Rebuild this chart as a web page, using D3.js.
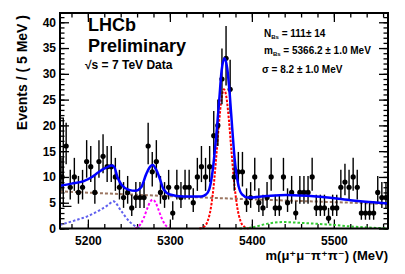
<!DOCTYPE html>
<html>
<head>
<meta charset="utf-8">
<script src="https://cdn.jsdelivr.net/npm/d3@7"></script>
<style>
  body { margin: 0; background: #fff; }
  svg { display: block; font-family: 'Liberation Sans', Arial, 'DejaVu Sans', sans-serif; font-weight: bold; }
</style>
</head>
<body>
<div id="graf"></div>
<script>
// Ajuste de masa B_s -> mu mu pi pi (LHCb preliminar)

// rango en masa y ancho de bin (MeV)
masaMin = 5166
masaMax = 5566
anchoBin = 5

// eventos por bin de 5 MeV
eventos = [10, 16, 8, 10, 7, 8, 13, 12, 7, 13,
           14, 12, 12, 10, 8, 6, 7, 4, 6, 6,
           6, 16, 11, 13, 7, 6, 8, 3, 8, 6,
           8, 8, 5, 10, 12, 10, 12, 18, 20, 29,
           33, 27, 10, 11, 11, 5, 6, 10, 5, 4,
           6, 10, 4, 4, 10, 5, 7, 3, 7, 7,
           7, 10, 4, 4, 4, 2, 4, 4, 8, 9,
           8, 10, 8, 3, 3, 3, 3, 7, 6, 6]

// curvas del ajuste, puntos [masa, eventos]
fondo   = [[5166, 7.2], [5266, 6.5], [5366, 5.85], [5466, 5.3], [5566, 4.75]]
parcial = [[5166, 0.7], [5185, 1.6], [5200, 2.4], [5215, 3.6], [5225, 4.6], [5231, 5.3],
           [5241, 3.3], [5251, 1.3], [5261, 0.2], [5266, 0]]
pico    = [[5258, 0], [5264, 0.8], [5268, 2.0], [5272, 3.7], [5276, 5.2], [5279, 5.6],
           [5282, 5.2], [5286, 3.7], [5290, 2.0], [5294, 0.8], [5300, 0]]
senal   = [[5336, 0], [5341, 0.26], [5346, 1.4], [5350, 4.0], [5354, 9.2], [5357, 14.8],
           [5360, 20.6], [5363, 25.2], [5366, 27], [5369, 25.4], [5372, 21], [5375, 15.2],
           [5378, 9.6], [5382, 4.3], [5386, 1.5], [5391, 0.3], [5396, 0]]
verde   = [[5385, 0], [5400, 0.2], [5418, 0.9], [5438, 1.25], [5458, 1.1], [5480, 0.9],
           [5500, 0.7], [5520, 0.4], [5540, 0.2], [5566, 0.05]]
total   = [[5166, 8.3], [5180, 8.7], [5195, 9.2], [5205, 10.0], [5212, 10.8], [5221, 11.7],
           [5229, 12.2], [5232, 12.0], [5236, 10.0], [5241, 8.5], [5250, 7.5], [5258, 7.3],
           [5265, 8.0], [5271, 10.5], [5276, 12.0], [5279, 12.3], [5283, 11.5], [5287, 10.0],
           [5292, 7.7], [5300, 6.6], [5316, 6.2], [5338, 6.2], [5344, 6.6], [5348, 7.6],
           [5352, 11.0], [5356, 17.0], [5360, 24.5], [5363, 30.5], [5366.5, 33.0], [5370, 31.0],
           [5373, 26.0], [5376, 19.5], [5379, 13.5], [5383, 8.8], [5388, 6.6], [5395, 6.0],
           [5418, 6.3], [5442, 6.5], [5479, 6.2], [5520, 5.5], [5566, 4.85]]

// trazo en escalon del borde izquierdo
paso = [[5166, 21.4], [5170, 21.4], [5170, 4.3], [5180, 4.3]]

// ticks de los ejes
yTicks = [0, 5, 10, 15, 20, 25, 30, 35, 40]
xTicks = [5200, 5300, 5400, 5500]

ancho_total = 405
alto_total = 274
margins = { top: 13, left: 60, right: 17, bottom: 45.5 }
ancho = ancho_total - margins.left - margins.right
alto = alto_total - margins.top - margins.bottom

svg = d3.select('#graf').append('svg')
  .attr('width', ancho_total)
  .attr('height', alto_total)

g = svg.append('g')
  .attr('transform', `translate(${margins.left}, ${margins.top})`)

// escaladores
x = d3.scaleLinear().domain([masaMin, masaMax]).range([0, ancho])
y = d3.scaleLinear().domain([0, 41.8]).range([alto, 0])

// ejes: ticks hacia adentro
yMinor = d3.range(0, 42, 1)
xMinor = d3.range(5180, 5566, 20)

function ejeTicks(eje, valores, largo, conTexto) {
  return eje.tickValues(valores)
    .tickSizeInner(-largo)
    .tickSizeOuter(0)
    .tickFormat(conTexto ? d3.format('d') : '')
}

g.append('g').call(ejeTicks(d3.axisLeft(y), yMinor, 4.5, false))
g.append('g').attr('class', 'ylab').call(ejeTicks(d3.axisLeft(y), yTicks, 9, true).tickPadding(4))
g.append('g').attr('transform', `translate(${ancho},0)`).call(ejeTicks(d3.axisRight(y), yMinor, 4.5, false))
g.append('g').attr('transform', `translate(${ancho},0)`).call(ejeTicks(d3.axisRight(y), yTicks, 9, false))

g.append('g').attr('transform', `translate(0,${alto})`).call(ejeTicks(d3.axisBottom(x), xMinor, 4.5, false))
g.append('g').attr('class', 'xlab').attr('transform', `translate(0,${alto})`)
  .call(ejeTicks(d3.axisBottom(x), xTicks, 9, true).tickPadding(7.5))
g.append('g').call(ejeTicks(d3.axisTop(x), xMinor, 4.5, false))
g.append('g').call(ejeTicks(d3.axisTop(x), xTicks, 9, false))

g.selectAll('.domain').remove()
g.selectAll('.tick line').attr('stroke', '#000').attr('stroke-width', 1.3)
g.selectAll('.tick text')
  .attr('font-family', 'Liberation Sans, Arial, sans-serif')
  .attr('font-weight', 'bold')
  .attr('font-size', 12)
  .attr('fill', '#000')

// curvas del ajuste
linea = d3.line()
  .x(d => x(d[0]))
  .y(d => y(d[1]))
  .curve(d3.curveMonotoneX)

curvas = [
  { datos: fondo,   color: '#9a7560', dash: '3,2' },
  { datos: parcial, color: '#6060ee', dash: '2.5,2' },
  { datos: pico,    color: '#ff00ff', dash: '2.5,2' },
  { datos: senal,   color: '#ff0000', dash: '2.5,1.5' },
  { datos: verde,   color: '#33cc33', dash: '2.5,2' }
]

curvas.forEach(c => {
  g.append('path')
    .attr('d', linea(c.datos))
    .attr('fill', 'none')
    .attr('stroke', c.color)
    .attr('stroke-width', 2)
    .attr('stroke-dasharray', c.dash)
})

// escalon negro a la izquierda
g.append('path')
  .attr('d', d3.line().x(d => x(d[0])).y(d => y(d[1]))(paso))
  .attr('fill', 'none')
  .attr('stroke', '#000')
  .attr('stroke-width', 1.4)

// datos con barras de error (aprox. Poisson)
bins = eventos.map((n, i) => ({
  m: masaMin + anchoBin * (i + 0.5),
  n: n,
  lo: n - Math.sqrt(n + 0.25) + 0.5,
  hi: n + Math.sqrt(n + 0.25) + 0.5
}))

pts = g.append('g')
pts.selectAll('line.v')
  .data(bins)
  .enter().append('line')
  .attr('x1', d => x(d.m))
  .attr('x2', d => x(d.m))
  .attr('y1', d => y(d.lo))
  .attr('y2', d => y(d.hi))
  .attr('stroke', '#000')
  .attr('stroke-width', 1.4)

pts.selectAll('line.h')
  .data(bins)
  .enter().append('line')
  .attr('x1', d => x(d.m - anchoBin / 2))
  .attr('x2', d => x(d.m + anchoBin / 2))
  .attr('y1', d => y(d.n))
  .attr('y2', d => y(d.n))
  .attr('stroke', '#000')
  .attr('stroke-width', 1.2)

// curva total encima
g.append('path')
  .attr('d', linea(total))
  .attr('fill', 'none')
  .attr('stroke', '#0000ff')
  .attr('stroke-width', 2.5)

pts.selectAll('circle')
  .data(bins)
  .enter().append('circle')
  .attr('cx', d => x(d.m))
  .attr('cy', d => y(d.n))
  .attr('r', 2.6)
  .attr('fill', '#000')

// marco
g.append('rect')
  .attr('x', 0)
  .attr('y', 0)
  .attr('width', ancho)
  .attr('height', alto)
  .attr('fill', 'none')
  .attr('stroke', '#000')
  .attr('stroke-width', 2)

// textos
svg.append('text')
  .attr('x', 88).attr('y', 31)
  .attr('font-size', 18)
  .text('LHCb')
svg.append('text')
  .attr('x', 88).attr('y', 51.5)
  .attr('font-size', 18)
  .text('Preliminary')
svg.append('text')
  .attr('x', 85).attr('y', 69)
  .attr('font-size', 12)
  .text('\u221As = 7 TeV Data')

stats = svg.append('g').attr('font-size', 10)
t1 = stats.append('text').attr('x', 264).attr('y', 36.5)
t1.append('tspan').text('N')
t1.append('tspan').attr('font-size', 6).attr('dy', 2).text('Bs')
t1.append('tspan').attr('dy', -2).text(' =  111\u00B1 14')
t2 = stats.append('text').attr('x', 264).attr('y', 53.5)
t2.append('tspan').text('m')
t2.append('tspan').attr('font-size', 6).attr('dy', 2).text('Bs')
t2.append('tspan').attr('dy', -2).text(' =  5366.2 \u00B1 1.0 MeV')
stats.append('text').attr('x', 262).attr('y', 73)
  .text('\u03C3 =  8.2 \u00B1 1.0 MeV')

// titulos de ejes
svg.append('text')
  .attr('transform', 'translate(26.5, 15) rotate(-90)')
  .attr('text-anchor', 'end')
  .attr('font-size', 14)
  .text('Events / ( 5 MeV )')

svg.append('text')
  .attr('x', 388).attr('y', 260)
  .attr('text-anchor', 'end')
  .attr('font-size', 13)
  .text('m(\u03BC\u207A\u03BC\u207B\u03C0\u207A\u03C0\u207B) (MeV)')
</script>
</body>
</html>
